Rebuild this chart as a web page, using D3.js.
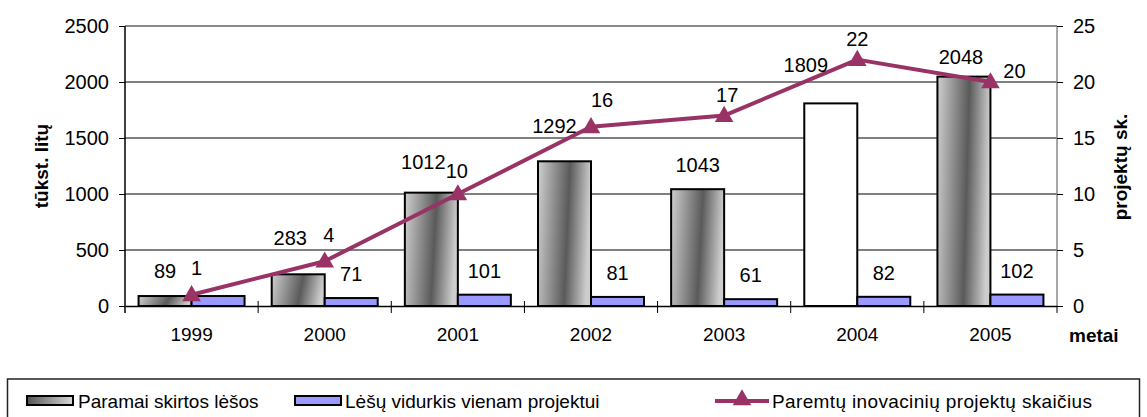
<!DOCTYPE html>
<html><head><meta charset="utf-8">
<script src="https://cdn.jsdelivr.net/npm/d3@7/dist/d3.min.js"></script>
<style>body{margin:0;background:#fff}svg{display:block;font-family:"Liberation Sans",Arial,sans-serif}</style>
</head><body><svg id="c" width="1147" height="417"></svg>
<script>
const years = ["1999","2000","2001","2002","2003","2004","2005"];
const fundsTotal = [89, 283, 1012, 1292, 1043, 1809, 2048];
const fundsAvg = [89, 71, 101, 81, 61, 82, 102];
const projects = [1, 4, 10, 16, 17, 22, 20];
const leftTicks = [0, 500, 1000, 1500, 2000, 2500];
const rightTicks = [0, 5, 10, 15, 20, 25];
const seriesNames = ["Paramai skirtos lėšos", "Lėšų vidurkis vienam projektui", "Paremtų inovacinių projektų skaičius"];
const plainYears = ["2004"];          // bar drawn without gradient in original
const hiddenAvgLabels = ["1999"];     // label hidden in original
// manual label nudges (dx, dy) as in the original layout
const totalNudge = [[0,-1],[-8,-12],[-8,-7],[-10,-11],[0,0],[-25,-14],[-3,4]];
const projNudge = [[5,-3],[4,-2],[-1,1],[11,-3],[3,3],[0,3],[24,13]];

const svg = d3.select("#c");
const L = 125, R = 1057, T = 26, B = 306;
const FS = 19, NS = 20;
const purple = "#993366", blue = "#9999ff";

const defs = svg.append("defs");
const g = defs.append("linearGradient").attr("id","grad").attr("x1",0).attr("y1",0).attr("x2",1).attr("y2",0.12);
g.append("stop").attr("offset",0).attr("stop-color","#cfcfcf");
g.append("stop").attr("offset",0.6).attr("stop-color","#5a5a5a");
g.append("stop").attr("offset",1).attr("stop-color","#cdcdcd");
const g2 = defs.append("linearGradient").attr("id","gradL").attr("x1",0).attr("y1",0).attr("x2",1).attr("y2",0);
g2.append("stop").attr("offset",0).attr("stop-color","#555");
g2.append("stop").attr("offset",1).attr("stop-color","#d8d8d8");

const x0 = d3.scaleBand().domain(years).range([L, R]).paddingInner(0).paddingOuter(0);
const x1 = d3.scaleBand().domain(["total","avg"]).range([0, x0.bandwidth()]).paddingInner(0).paddingOuter(0.256);
const yL = d3.scaleLinear().domain([0, 2500]).range([B, T]);
const yR = d3.scaleLinear().domain([0, 25]).range([B, T]);

// gridlines
svg.append("g").selectAll("line").data(leftTicks.filter(d => d > 0 && d < 2500)).join("line")
  .attr("x1", L).attr("x2", R).attr("y1", d => yL(d)).attr("y2", d => yL(d))
  .attr("stroke", "#000").attr("stroke-width", 1);
svg.append("line").attr("x1", L).attr("x2", R).attr("y1", yL(2500)).attr("y2", yL(2500))
  .attr("stroke", "#8a8a8a").attr("stroke-width", 2);
svg.append("line").attr("x1", R).attr("x2", R).attr("y1", T).attr("y2", B)
  .attr("stroke", "#8a8a8a").attr("stroke-width", 1.5);

// bars
const grp = svg.append("g").selectAll("g").data(years).join("g")
  .attr("transform", d => `translate(${x0(d)},0)`);
grp.append("rect")
  .attr("x", x1("total")).attr("width", x1.bandwidth())
  .attr("y", (d,i) => yL(fundsTotal[i])).attr("height", (d,i) => B - yL(fundsTotal[i]))
  .attr("fill", d => plainYears.includes(d) ? "#fff" : "url(#grad)")
  .attr("stroke", "#000").attr("stroke-width", 2);
grp.append("rect")
  .attr("x", x1("avg")).attr("width", x1.bandwidth())
  .attr("y", (d,i) => yL(fundsAvg[i])).attr("height", (d,i) => B - yL(fundsAvg[i]))
  .attr("fill", blue).attr("stroke", "#000").attr("stroke-width", 2);

// axes
const axL = svg.append("g").attr("transform", `translate(${L},0)`)
  .call(d3.axisLeft(yL).tickValues(leftTicks).tickFormat(d3.format("d")).tickSize(6).tickPadding(10));
const axR = svg.append("g").attr("transform", `translate(${R},0)`)
  .call(d3.axisRight(yR).tickValues(rightTicks).tickFormat(d3.format("d")).tickSize(6).tickPadding(10));
[axL, axR].forEach(a => {
  a.select(".domain").remove();
  a.selectAll("line").attr("stroke", "#000").attr("stroke-width", 1);
  a.selectAll("text").attr("font-size", NS).attr("fill", "#000").attr("font-family", "Liberation Sans, Arial, sans-serif");
});
svg.append("line").attr("x1", L).attr("x2", L).attr("y1", T).attr("y2", B + 7).attr("stroke", "#000").attr("stroke-width", 1.5);
svg.append("line").attr("x1", R).attr("x2", R).attr("y1", B).attr("y2", B + 7).attr("stroke", "#000").attr("stroke-width", 1);
const axB = svg.append("g").attr("transform", `translate(0,${B})`)
  .call(d3.axisBottom(x0).tickSize(0).tickPadding(22));
axB.select(".domain").attr("stroke", "#000").attr("stroke-width", 1.5);
axB.selectAll("text").attr("font-size", FS).attr("fill", "#000").attr("font-family", "Liberation Sans, Arial, sans-serif");
svg.append("g").selectAll("line").data(years.slice(1)).join("line")
  .attr("x1", d => x0(d)).attr("x2", d => x0(d)).attr("y1", B - 5).attr("y2", B + 7)
  .attr("stroke", "#000").attr("stroke-width", 1);

// line series
const lineGen = d3.line().x((d,i) => x0(years[i]) + x0.bandwidth()/2).y(d => yR(d));
svg.append("path").datum(projects).attr("d", lineGen)
  .attr("fill", "none").attr("stroke", purple).attr("stroke-width", 4).attr("stroke-linejoin", "round");
svg.append("g").selectAll("path").data(projects).join("path")
  .attr("d", d3.symbol().type(d3.symbolTriangle).size(150))
  .attr("transform", (d,i) => `translate(${x0(years[i]) + x0.bandwidth()/2},${yR(d) + 1})`)
  .attr("fill", purple);

// data labels
const lab = svg.append("g").attr("font-size", NS).attr("text-anchor", "middle").attr("fill", "#000");
lab.selectAll("text.t").data(fundsTotal).join("text").attr("class", "t")
  .attr("x", (d,i) => x0(years[i]) + x1("total") + x1.bandwidth()/2 + totalNudge[i][0])
  .attr("y", (d,i) => yL(d) - 17 + totalNudge[i][1]).text(d => d);
lab.selectAll("text.a").data(fundsAvg.map((v,i) => ({v, y: years[i]})).filter(d => !hiddenAvgLabels.includes(d.y)))
  .join("text").attr("class", "a")
  .attr("x", d => x0(d.y) + x1("avg") + x1.bandwidth()/2)
  .attr("y", d => yL(d.v) - 17).text(d => d.v);
lab.selectAll("text.p").data(projects).join("text").attr("class", "p")
  .attr("x", (d,i) => x0(years[i]) + x0.bandwidth()/2 + projNudge[i][0])
  .attr("y", (d,i) => yR(d) - 17 + projNudge[i][1]).text(d => d);

// axis titles
svg.append("text").attr("transform", `translate(48,166) rotate(-90)`).attr("text-anchor", "middle")
  .attr("font-size", FS).attr("font-weight", "bold").text("tūkst. litų");
svg.append("text").attr("transform", `translate(1127,167) rotate(-90)`).attr("text-anchor", "middle")
  .attr("font-size", FS).attr("font-weight", "bold").text("projektų sk.");
svg.append("text").attr("x", 1069).attr("y", 342).attr("font-size", FS).attr("font-weight", "bold").text("metai");

// legend
svg.append("rect").attr("x", 7.5).attr("y", 379).attr("width", 1132).attr("height", 60)
  .attr("fill", "none").attr("stroke", "#222").attr("stroke-width", 1.5);
const lg = svg.append("g");
const ly = 401;
lg.append("rect").attr("x", 27).attr("y", ly - 5).attr("width", 46).attr("height", 9)
  .attr("fill", "url(#gradL)").attr("stroke", "#000").attr("stroke-width", 2);
lg.append("text").attr("x", 78).attr("y", ly + 7).attr("font-size", FS).text(seriesNames[0]);
lg.append("rect").attr("x", 295).attr("y", ly - 5).attr("width", 46).attr("height", 9)
  .attr("fill", blue).attr("stroke", "#000").attr("stroke-width", 2);
lg.append("text").attr("x", 345).attr("y", ly + 7).attr("font-size", FS).text(seriesNames[1]);
lg.append("line").attr("x1", 715).attr("x2", 769).attr("y1", ly).attr("y2", ly)
  .attr("stroke", purple).attr("stroke-width", 4);
lg.append("path").attr("d", d3.symbol().type(d3.symbolTriangle).size(150)())
  .attr("transform", `translate(742,${ly - 1})`).attr("fill", purple);
lg.append("text").attr("x", 772).attr("y", ly + 7).attr("font-size", FS).attr("textLength", 320).text(seriesNames[2]);
</script></body></html>
